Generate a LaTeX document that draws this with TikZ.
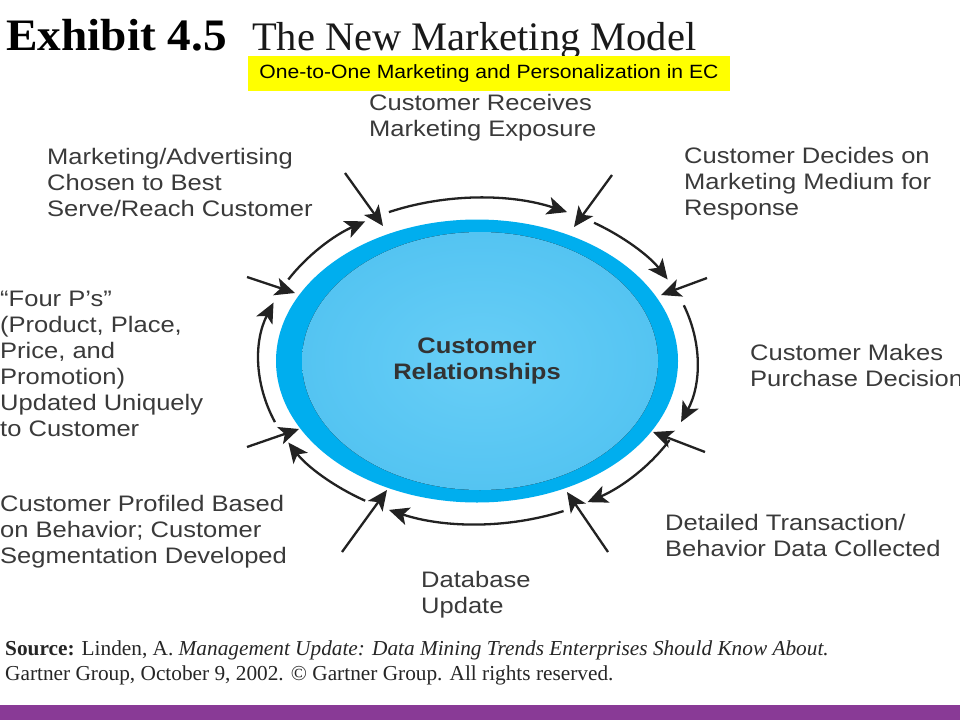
\documentclass[tikz,border=0pt]{standalone}
\usepackage{fontspec}
\setmainfont{Liberation Serif}
\newfontfamily\labfont{Liberation Sans}[FakeStretch=1.14]
\newfontfamily\yfont{Liberation Sans}[FakeStretch=1.10]
\newfontfamily\titlebf{Liberation Serif}[FakeStretch=1.05]
\usetikzlibrary{shapes.geometric,arrows.meta,calc}
\definecolor{labgray}{RGB}{58,58,58}
\definecolor{cyanouter}{RGB}{0,174,238}
\definecolor{cyaninner}{RGB}{84,196,242}
\definecolor{cyancenter}{RGB}{104,206,246}
\definecolor{arrowblack}{RGB}{34,34,34}
\definecolor{purplebar}{RGB}{137,58,150}
\definecolor{hlyellow}{RGB}{255,255,0}
\tikzset{
  lab/.style={anchor=base west,align=left,inner sep=0pt,text=labgray,
    font=\labfont\fontsize{22.4}{26}\selectfont},
  radarrow/.style={draw=arrowblack,line width=2.3pt,
    -{Stealth[length=20pt,width=18pt,inset=5pt]}},
  ringarrow/.style={draw=arrowblack,line width=2.3pt,
    -{Stealth[length=20pt,width=18pt,inset=5pt]}},
}
\begin{document}
\begin{tikzpicture}[x=1pt,y=1pt]
\useasboundingbox (0,0) rectangle (960,-720);
\fill[white] (0,0) rectangle (960,-720);

% title
\node[anchor=base west,inner sep=0pt,text=black,font=\titlebf\bfseries\fontsize{45}{50}\selectfont] (ex) at (6,-50) {Exhibit 4.5};
\node[anchor=base west,inner sep=0pt,text=black!90,font=\fontsize{40.5}{46}\selectfont] (tt) at (252,-50) {The New Marketing Model};
\node[fill=hlyellow,minimum width=482pt,minimum height=35pt,inner sep=0pt,text=black,
  font=\yfont\fontsize{19.2}{22}\selectfont] (yb) at (489,-73.5) {One-to-One Marketing and Personalization in EC};

% ellipse
\node[ellipse,minimum width=402pt,minimum height=283pt,inner sep=0pt,fill=cyanouter] (ell) at (477,-361) {};
\fill[inner color=cyancenter,outer color=cyaninner] (480,-361) ellipse [x radius=178, y radius=129];
\node[anchor=base,align=center,inner sep=0pt,text=black!80,
  font=\labfont\bfseries\fontsize{22.4}{26}\selectfont] (cr) at (477,-379) {Customer\\Relationships};

% ring arcs
\coordinate (rc) at (478,-361);
\draw[ringarrow] ($(rc)+(114:219 and 163)$) arc[start angle=114,end angle=66,x radius=219,y radius=163];
\draw[ringarrow] ($(rc)+(58:219 and 163)$) arc[start angle=58,end angle=30,x radius=219,y radius=163];
\draw[ringarrow] ($(rc)+(20:219 and 163)$) arc[start angle=20,end angle=-22,x radius=219,y radius=163];
\draw[ringarrow] ($(rc)+(-29:219 and 163)$) arc[start angle=-29,end angle=-60,x radius=219,y radius=163];
\draw[ringarrow] ($(rc)+(-67:219 and 163)$) arc[start angle=-67,end angle=-114,x radius=219,y radius=163];
\draw[ringarrow] ($(rc)+(-121:219 and 163)$) arc[start angle=-121,end angle=-150,x radius=219,y radius=163];
\draw[ringarrow] ($(rc)+(-158:219 and 163)$) arc[start angle=-158,end angle=-201,x radius=219,y radius=163];
\draw[ringarrow] ($(rc)+(150:219 and 163)$) arc[start angle=150,end angle=121,x radius=219,y radius=163];

% radial arrows
\coordinate (s1) at (345,-173); \coordinate (t1) at (383,-226);
\coordinate (s2) at (612,-175); \coordinate (t2) at (574,-227);
\coordinate (s3) at (707,-278); \coordinate (t3) at (661,-295);
\coordinate (s4) at (705,-452); \coordinate (t4) at (653,-432);
\coordinate (s5) at (608,-552); \coordinate (t5) at (567,-492);
\coordinate (s6) at (342,-552); \coordinate (t6) at (387,-490);
\coordinate (s7) at (247,-447); \coordinate (t7) at (299,-429);
\coordinate (s8) at (247,-277); \coordinate (t8) at (295,-293);
\foreach \i in {1,...,8} { \draw[radarrow] (s\i) -- (t\i); }

% labels (anchored at the baseline of their last line)
\node[lab] (l1) at (369,-136) {Customer Receives\\Marketing Exposure};
\node[lab] (l2) at (684,-215) {Customer Decides on\\Marketing Medium for\\Response};
\node[lab] (l3) at (750,-386) {Customer Makes\\Purchase Decision};
\node[lab] (l4) at (665,-556) {Detailed Transaction/\\Behavior Data Collected};
\node[lab] (l5) at (421,-613) {Database\\Update};
\node[lab] (l6) at (0,-563) {Customer Profiled Based\\on Behavior; Customer\\Segmentation Developed};
\node[lab] (l7) at (0,-436) {“Four P’s”\\(Product, Place,\\Price, and\\Promotion)\\Updated Uniquely\\to Customer};
\node[lab] (l8) at (47,-216) {Marketing/Advertising\\Chosen to Best\\Serve/Reach Customer};

% source
\node[anchor=base west,align=left,inner sep=0pt,text=black!85,font=\fontsize{21.3}{25}\selectfont] (src) at (5,-680)
  {\textbf{Source:} Linden, A. \textit{Management Update: Data Mining Trends Enterprises Should Know About.}\\
   Gartner Group, October 9, 2002. © Gartner Group. All rights reserved.};

% bottom bar
\fill[purplebar] (0,-705) rectangle (960,-720);
\end{tikzpicture}
\end{document}
